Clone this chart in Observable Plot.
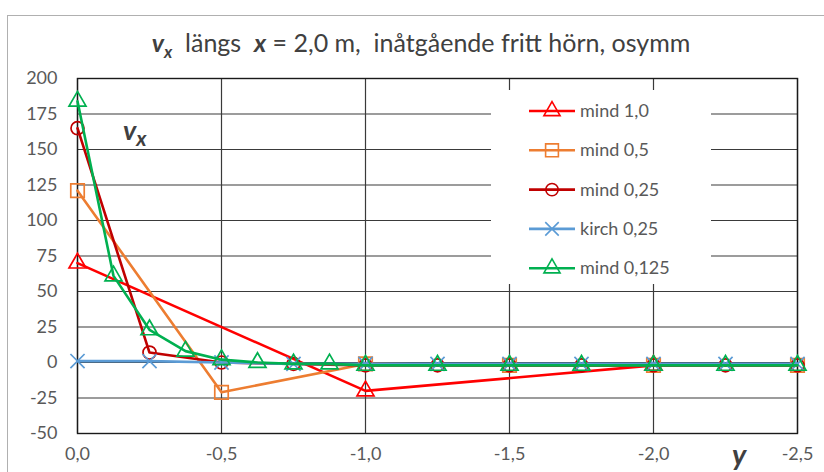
<!DOCTYPE html>
<html><head><meta charset="utf-8">
<script src="https://cdn.jsdelivr.net/npm/d3@7"></script>
<script src="https://cdn.jsdelivr.net/npm/@observablehq/plot@0.6"></script>
<style>
html,body{margin:0;padding:0;background:#fff;}
#wrap{position:relative;width:824px;height:472px;overflow:hidden;font-family:Lato,"Open Sans",sans-serif;}
#border{position:absolute;left:7px;top:15px;width:900px;height:600px;border-left:1.5px solid #b0b0b0;border-top:1.5px solid #b0b0b0;}
#title{position:absolute;left:0;width:842px;top:27px;text-align:center;font-size:25px;color:#404040;white-space:pre;}
#title b{font-style:italic;}
#vx{position:absolute;left:123px;top:113px;font-size:27px;font-weight:bold;font-style:italic;color:#404040;}
#ylab{position:absolute;left:732px;top:436px;font-size:29px;font-weight:bold;font-style:italic;color:#404040;}
#legend{position:absolute;left:491px;top:90px;width:220px;height:194px;background:#fff;}
#legend svg{position:absolute;left:0;top:0;}
.lt{position:absolute;left:89px;font-size:18px;color:#595959;white-space:nowrap;}
</style></head>
<body>
<div id="wrap">
<div id="border"></div>
<div id="chart"></div>
<div id="title"><b>v<sub style="font-size:17px">x</sub></b>  längs  <b>x</b> = 2,0 m,  inåtgående fritt hörn, osymm</div>
<div id="vx">v<sub style="font-size:21px">x</sub></div>
<div id="ylab">y</div>
<div id="legend"></div>
</div>
<script>
// Series data (position y [m], value vx)
const seriesNames = ["mind 1,0", "mind 0,5", "mind 0,25", "kirch 0,25", "mind 0,125"];
const seriesColors = ["#FF0000", "#ED7D31", "#C00000", "#5B9BD5", "#00B050"];
const seriesSymbols = ["triangle", "square", "circle", "times", "triangle"];
const seriesR = [6.3, 7.6, 6.5, 6.5, 6.3];

const mind10_y = [0, -1, -2];
const mind10_v = [70, -20, -2];

const mind05_y = [0, -0.5, -1, -1.5, -2, -2.5];
const mind05_v = [121, -21, -1, -2, -2, -2];

const mind025_y = [0, -0.25, -0.5, -0.75, -1, -1.25, -1.5, -1.75, -2, -2.25, -2.5];
const mind025_v = [165, 7, 0, -1, -2, -2, -2, -2, -2, -2, -2];

const kirch025_y = [0, -0.25, -0.5, -0.75, -1, -1.25, -1.5, -1.75, -2, -2.25, -2.5];
const kirch025_v = [1, 1, 0, -1, -1, -1, -1, -1, -1, -1, -1];

const mind0125_y = [0, -0.125, -0.25, -0.375, -0.5, -0.625, -0.75, -0.875, -1, -1.25, -1.5, -1.75, -2, -2.25, -2.5];
const mind0125_v = [184, 61, 23, 8, 2, 0, -1, -1, -2, -2, -2, -2, -2, -2, -2];

const xTicks = [0, -0.5, -1, -1.5, -2, -2.5];
const yTicks = [-50, -25, 0, 25, 50, 75, 100, 125, 150, 175, 200];

const seriesY = [mind10_y, mind05_y, mind025_y, kirch025_y, mind0125_y];
const seriesV = [mind10_v, mind05_v, mind025_v, kirch025_v, mind0125_v];

const comma1 = d => d3.format(".1f")(d).replace("−", "-").replace(".", ",");

const marks = [
  Plot.gridY(yTicks, {stroke: "#3a3a3a", strokeOpacity: 1, strokeWidth: 1.2}),
  Plot.gridX(xTicks, {stroke: "#3a3a3a", strokeOpacity: 1, strokeWidth: 1.2}),
  Plot.frame({stroke: "#1a1a1a", strokeWidth: 1.4}),
  Plot.axisY(yTicks, {label: null, tickSize: 0, tickPadding: 20, fontSize: 18, color: "#595959", tickFormat: d => String(d)}),
  Plot.axisX(xTicks, {label: null, tickSize: 0, tickPadding: 14, fontSize: 18, color: "#595959", tickFormat: comma1})
];
seriesNames.forEach((name, i) => {
  const rows = seriesY[i].map((y, j) => ({y, v: seriesV[i][j]}));
  marks.push(Plot.line(rows, {x: "y", y: "v", stroke: seriesColors[i], strokeWidth: 2.6}));
  marks.push(Plot.dot(rows, {x: "y", y: "v", symbol: () => seriesSymbols[i], r: seriesR[i], stroke: seriesColors[i], fill: "none", strokeWidth: 1.7}));
});

const chart = Plot.plot({
  width: 824, height: 472,
  marginLeft: 77, marginRight: 27, marginTop: 78, marginBottom: 39,
  style: {fontFamily: "Lato, 'Open Sans', sans-serif", background: "transparent"},
  x: {domain: [0, -2.5], axis: null},
  y: {domain: [-50, 200], axis: null},
  symbol: {domain: ["triangle","square","circle","times"], range: ["triangle","square","circle","times"]},
  marks
});
document.getElementById("chart").appendChild(chart);

// legend
const leg = d3.select("#legend");
const svg = leg.append("svg").attr("width", 220).attr("height", 194);
const symMap = {triangle: d3.symbolTriangle, square: d3.symbolSquare, circle: d3.symbolCircle, times: d3.symbolTimes};
seriesNames.forEach((name, i) => {
  const cy = 21 + i * 39.3;
  const rr = seriesR[i] * 0.95;
  svg.append("line").attr("x1", 38).attr("x2", 84).attr("y1", cy).attr("y2", cy)
    .attr("stroke", seriesColors[i]).attr("stroke-width", 2.6);
  svg.append("path").attr("d", d3.symbol(symMap[seriesSymbols[i]], Math.PI * rr * rr)())
    .attr("transform", `translate(61,${cy})`).attr("fill", "none")
    .attr("stroke", seriesColors[i]).attr("stroke-width", 1.6);
  leg.append("div").attr("class", "lt").style("top", (cy - 12) + "px").text(name);
});
</script>
</body></html>
